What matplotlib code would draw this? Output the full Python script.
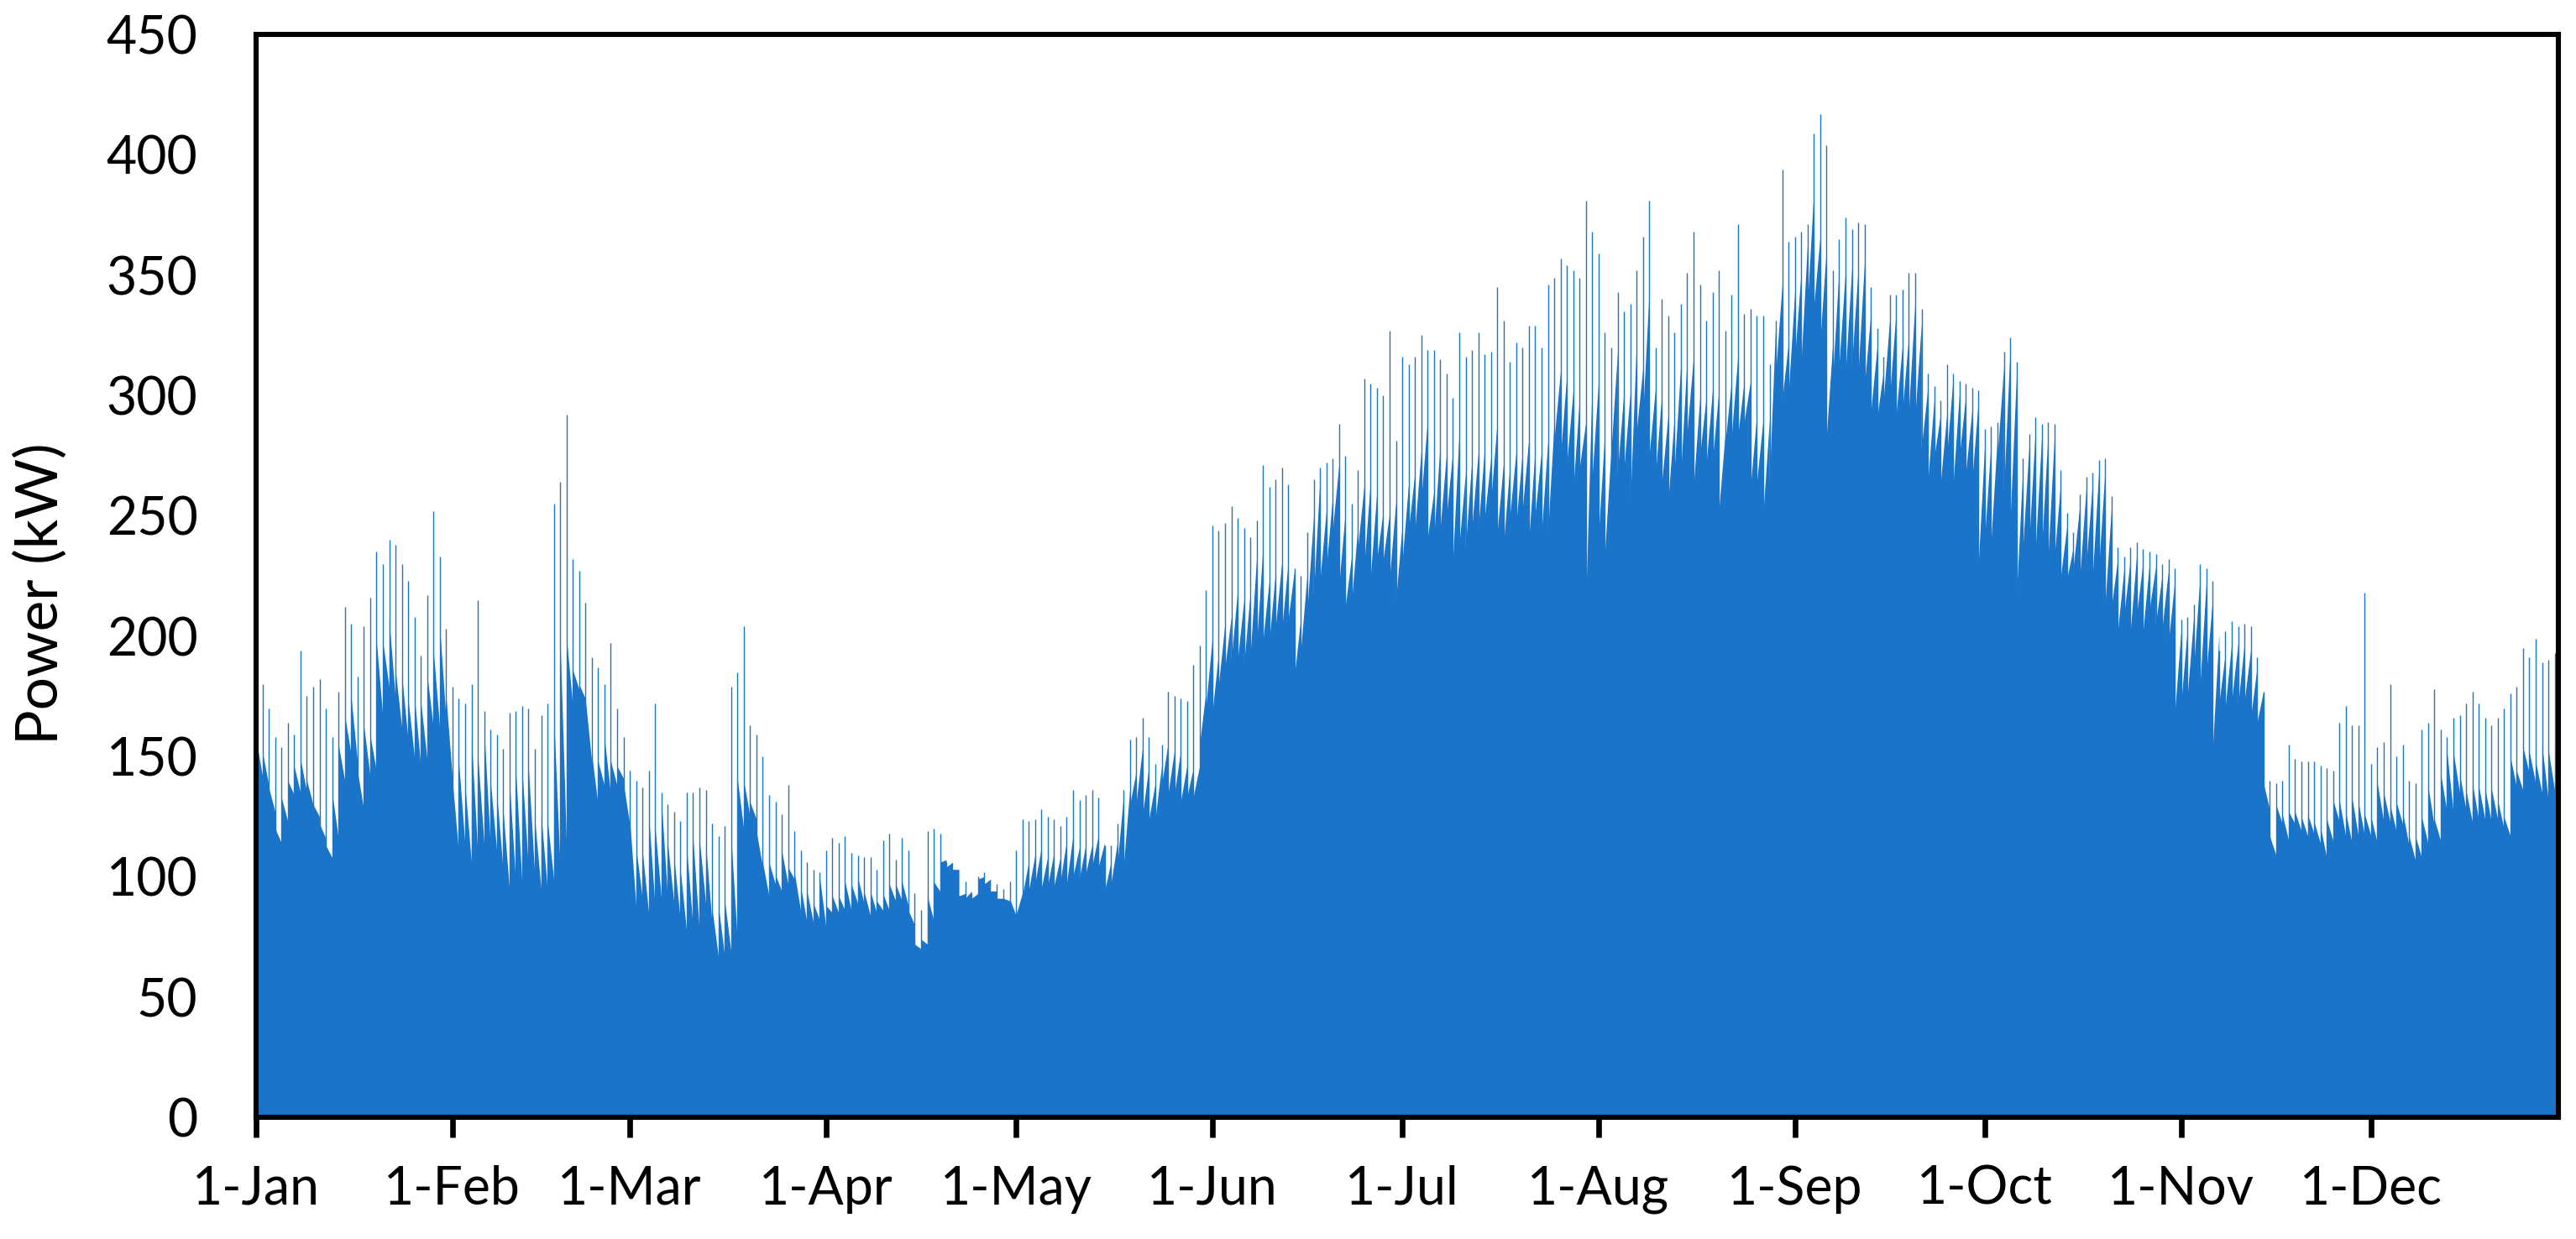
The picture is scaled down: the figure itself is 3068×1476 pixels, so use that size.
import matplotlib
matplotlib.use("Agg")
import matplotlib.pyplot as plt
import numpy as np

plt.rcParams['font.family'] = ['Lato', 'DejaVu Sans']

# one value per day (day 0 = 1 Jan): short daily spike, level just after it, level at day end (kW)
peak_kw = [
    199, 180, 170, 158, 154, 164, 159, 194, 175, 179,
    182, 170, 158, 177, 212, 205, 183, 204, 216, 235,
    230, 240, 238, 230, 223, 208, 192, 217, 252, 233,
    203, 179, 174, 172, 180, 215, 169, 161, 159, 153,
    168, 169, 171, 170, 153, 167, 172, 255, 264, 292,
    232, 227, 214, 191, 187, 180, 197, 170, 158, 144,
    140, 137, 144, 172, 135, 130, 127, 123, 135, 135,
    137, 136, 122, 117, 121, 179, 185, 204, 163, 159,
    150, 134, 131, 126, 138, 119, 111, 106, 103, 102,
    111, 116, 114, 117, 110, 109, 108, 108, 103, 115,
    118, 107, 116, 111, 93, 86, 119, 120, 118, 106,
    103, 92, 98, 93, 100, 102, 94, 97, 95, 98,
    111, 124, 123, 124, 128, 125, 124, 121, 125, 136,
    132, 134, 136, 133, 113, 113, 122, 136, 157, 158,
    166, 158, 147, 155, 177, 175, 174, 173, 188, 196,
    219, 246, 244, 247, 254, 249, 245, 241, 248, 271,
    262, 265, 270, 263, 228, 225, 243, 265, 270, 272,
    274, 288, 275, 255, 269, 307, 305, 303, 300, 327,
    281, 316, 313, 316, 325, 319, 319, 315, 309, 299,
    326, 316, 319, 326, 317, 318, 345, 331, 314, 322,
    320, 329, 329, 320, 346, 349, 357, 354, 352, 349,
    381, 368, 359, 326, 320, 343, 335, 338, 352, 366,
    381, 320, 340, 333, 326, 338, 351, 368, 346, 331,
    343, 352, 327, 342, 371, 334, 336, 333, 333, 313,
    331, 394, 364, 366, 368, 371, 409, 417, 404, 352,
    365, 374, 369, 372, 371, 345, 328, 316, 342, 342,
    344, 351, 351, 336, 309, 304, 298, 313, 309, 306,
    305, 303, 302, 286, 287, 289, 318, 324, 314, 274,
    284, 291, 288, 289, 288, 269, 251, 243, 259, 266,
    268, 273, 274, 258, 237, 233, 237, 239, 236, 235,
    234, 230, 232, 228, 207, 208, 213, 230, 228, 223,
    194, 202, 206, 204, 205, 204, 191, 177, 140, 139,
    140, 155, 149, 148, 148, 148, 146, 145, 144, 164,
    171, 163, 163, 218, 147, 154, 156, 180, 150, 155,
    140, 139, 161, 164, 178, 161, 158, 166, 167, 172,
    177, 172, 166, 163, 166, 170, 176, 179, 195, 191,
    199, 189, 190, 193, 197,
]

start_kw = [
    157, 152, 137, 120, 133, 140, 146, 149, 140, 130,
    122, 113, 135, 155, 167, 175, 144, 163, 159, 198,
    198, 207, 186, 184, 174, 175, 173, 184, 194, 204,
    175, 140, 148, 138, 158, 151, 162, 140, 135, 128,
    140, 145, 145, 146, 124, 126, 124, 168, 200, 200,
    186, 180, 174, 151, 148, 158, 148, 146, 139, 124,
    112, 111, 126, 121, 132, 114, 108, 103, 112, 116,
    116, 114, 87, 88, 90, 117, 141, 140, 131, 119,
    106, 106, 101, 111, 104, 102, 96, 94, 89, 100,
    88, 92, 92, 98, 97, 100, 94, 94, 90, 93,
    97, 97, 98, 86, 72, 74, 92, 98, 106, 104,
    103, 92, 91, 91, 99, 97, 94, 91, 91, 91,
    84, 92, 94, 97, 95, 96, 96, 98, 97, 100,
    99, 101, 104, 104, 94, 97, 105, 105, 130, 131,
    126, 124, 124, 138, 134, 134, 131, 133, 133, 155,
    171, 168, 180, 187, 190, 190, 188, 192, 196, 198,
    198, 204, 203, 207, 184, 195, 211, 217, 223, 228,
    244, 221, 212, 214, 237, 230, 225, 232, 232, 224,
    215, 231, 244, 244, 257, 241, 241, 245, 250, 232,
    238, 237, 245, 244, 249, 256, 243, 238, 250, 247,
    253, 240, 251, 243, 243, 282, 275, 272, 261, 270,
    214, 266, 242, 235, 277, 268, 269, 255, 285, 292,
    275, 267, 264, 256, 270, 268, 285, 262, 275, 271,
    273, 252, 280, 283, 283, 289, 262, 264, 251, 265,
    310, 298, 301, 316, 314, 338, 337, 323, 283, 308,
    313, 309, 313, 309, 304, 293, 291, 298, 300, 292,
    294, 294, 292, 278, 264, 274, 263, 275, 263, 275,
    268, 265, 230, 241, 240, 275, 260, 247, 216, 236,
    239, 236, 237, 233, 233, 225, 224, 229, 224, 229,
    224, 228, 213, 212, 202, 209, 202, 209, 202, 211,
    205, 203, 197, 168, 172, 175, 187, 180, 185, 154,
    172, 171, 173, 171, 173, 166, 164, 139, 117, 130,
    126, 127, 127, 125, 126, 123, 121, 124, 132, 132,
    127, 133, 131, 126, 125, 139, 135, 130, 131, 127,
    117, 117, 125, 138, 124, 143, 152, 152, 143, 136,
    139, 138, 137, 137, 132, 125, 150, 144, 154, 152,
    148, 155, 153, 154, 154,
]

end_kw = [
    142, 138, 127, 114, 123, 134, 135, 135, 130, 125,
    116, 108, 116, 140, 151, 148, 128, 142, 144, 167,
    179, 174, 162, 157, 150, 146, 149, 162, 162, 165,
    141, 110, 113, 106, 110, 114, 113, 111, 103, 95,
    98, 97, 104, 101, 95, 95, 99, 105, 115, 171,
    178, 174, 148, 130, 138, 134, 138, 141, 122, 88,
    91, 85, 88, 91, 91, 89, 82, 77, 79, 78,
    89, 81, 67, 67, 69, 74, 120, 125, 124, 104,
    92, 97, 94, 97, 99, 86, 81, 81, 82, 79,
    85, 85, 86, 86, 89, 89, 84, 85, 86, 86,
    90, 90, 88, 80, 70, 72, 82, 94, 107, 106,
    103, 93, 94, 93, 100, 99, 94, 91, 90, 84,
    93, 106, 109, 112, 108, 110, 108, 115, 117, 112,
    113, 113, 117, 114, 106, 114, 134, 137, 144, 154,
    146, 139, 146, 155, 152, 152, 146, 145, 146, 177,
    199, 193, 205, 208, 219, 215, 218, 232, 237, 223,
    227, 231, 231, 228, 208, 226, 250, 265, 252, 258,
    271, 251, 233, 246, 263, 265, 260, 252, 251, 256,
    246, 263, 268, 277, 290, 260, 280, 276, 277, 285,
    268, 273, 276, 278, 274, 289, 272, 271, 277, 277,
    282, 278, 277, 281, 289, 310, 309, 302, 299, 289,
    306, 306, 285, 278, 318, 301, 301, 322, 311, 343,
    303, 301, 292, 292, 313, 316, 316, 299, 299, 302,
    302, 284, 306, 316, 306, 306, 292, 290, 290, 331,
    346, 322, 343, 351, 363, 385, 366, 361, 322, 353,
    352, 353, 352, 355, 334, 320, 310, 332, 335, 321,
    325, 339, 330, 303, 298, 292, 292, 307, 301, 300,
    294, 298, 280, 281, 283, 312, 319, 308, 269, 279,
    286, 283, 284, 283, 264, 246, 237, 254, 261, 263,
    268, 269, 253, 232, 228, 232, 234, 231, 230, 229,
    225, 227, 223, 202, 203, 208, 225, 223, 216, 201,
    193, 197, 197, 197, 194, 187, 177, 128, 109, 122,
    115, 122, 119, 117, 118, 114, 108, 115, 123, 117,
    114, 117, 117, 117, 114, 123, 123, 119, 122, 113,
    107, 108, 114, 121, 115, 127, 127, 135, 128, 123,
    124, 124, 123, 124, 120, 117, 137, 136, 143, 139,
    135, 132, 136, 139, 139,
]

month_start_day = [0, 31, 59, 90, 120, 151, 181, 212, 243, 273, 304, 334]
month_labels = ['1-Jan', '1-Feb', '1-Mar', '1-Apr', '1-May', '1-Jun',
                '1-Jul', '1-Aug', '1-Sep', '1-Oct', '1-Nov', '1-Dec']
y_ticks = [0, 50, 100, 150, 200, 250, 300, 350, 400, 450]

assert len(peak_kw) == len(start_kw) == len(end_kw) == 365

blue = '#1A74C9'
W, H = 3068, 1476
fig = plt.figure(figsize=(W / 200, H / 200), dpi=200)
left, right, top, bottom = 305, 3047, 41, 1331
ax = fig.add_axes([left / W, 1 - bottom / H, (right - left) / W, (bottom - top) / H])

days = np.arange(len(start_kw))
# each day: level right after the spike running to the level at day end
x = np.column_stack([days, days + 1]).ravel()
y = np.column_stack([start_kw, end_kw]).ravel()
ax.fill_between(x, y, 0, color=blue, linewidth=0)
# the short daily spikes
ax.vlines(days + 0.02, 0, peak_kw, color=blue, linewidth=0.5)

ax.set_xlim(0, 363.6)
ax.set_ylim(0, 450)
ax.set_yticks(y_ticks)
ax.set_xticks(month_start_day)
ax.set_xticklabels(month_labels)

for s in ax.spines.values():
    s.set_linewidth(2.2)
    s.set_color('black')
ax.tick_params(axis='y', length=0, pad=25, labelsize=22.5)
ax.tick_params(axis='x', direction='out', length=8.5, width=2.4, pad=12, labelsize=22.5)

fig.text(48 / W, 1 - 707 / H, 'Power (kW)', rotation=90, ha='center', va='center', fontsize=25)

fig.savefig('out.png', dpi=200, facecolor='white')
